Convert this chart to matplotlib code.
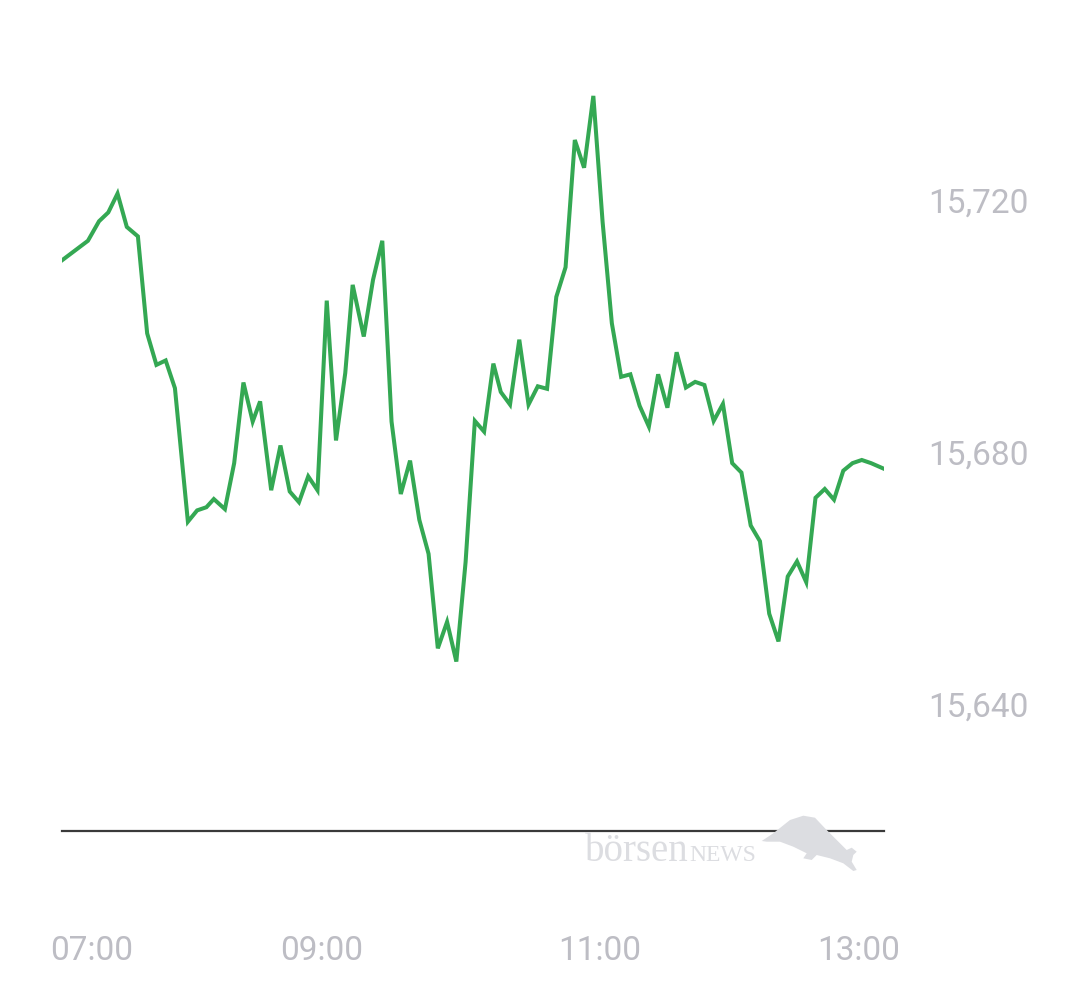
import matplotlib.pyplot as plt
from matplotlib.patches import Polygon

# index price, one sample roughly every 5 minutes (x in minutes from first sample)
t = [0, 14, 20, 25, 30, 35, 41, 46, 51, 56, 61, 68, 73, 78, 82, 88, 93, 98,
     103, 107, 113, 118, 123, 128, 133, 138, 143, 148, 153, 157, 163, 168,
     173, 178, 183, 188, 193, 198, 203, 208, 213, 218, 223, 228, 233, 237,
     242, 247, 252, 257, 262, 267, 272, 277, 282, 287, 292, 297, 302, 307,
     312, 317, 322, 327, 332, 337, 342, 347, 352, 357, 362, 367, 372, 377,
     382, 387, 392, 397, 402, 407, 412, 417, 422, 427, 432, 437, 444]
price = [15710.4, 15713.5, 15716.6, 15718.0, 15721.0, 15715.7, 15714.2,
         15698.8, 15693.8, 15694.5, 15690.1, 15668.9, 15670.7, 15671.2,
         15672.5, 15670.9, 15678.2, 15691.0, 15684.8, 15688.0, 15673.9,
         15681.0, 15673.7, 15672.0, 15676.1, 15673.9, 15704.0, 15681.8,
         15692.5, 15706.5, 15698.3, 15707.3, 15713.5, 15684.8, 15673.3,
         15678.6, 15669.2, 15663.8, 15648.8, 15653.0, 15646.7, 15662.5,
         15684.9, 15683.2, 15694.0, 15689.5, 15687.5, 15697.8, 15687.5,
         15690.4, 15690.0, 15704.6, 15709.3, 15729.5, 15725.1, 15736.5,
         15716.5, 15700.4, 15691.9, 15692.3, 15687.3, 15684.0, 15692.3,
         15687.0, 15695.8, 15690.2, 15691.1, 15690.6, 15684.9, 15687.6,
         15678.2, 15676.7, 15668.3, 15665.8, 15654.3, 15649.9, 15660.2,
         15662.6, 15659.3, 15672.7, 15674.1, 15672.4, 15677.0, 15678.2,
         15678.7, 15678.2, 15677.3]

y_ticks = [15640, 15680, 15720]
x_tick_pos = [15.8, 140.5, 290.5, 430.5]
x_tick_labels = ["07:00", "09:00", "11:00", "13:00"]

W, H = 1080, 990
fig = plt.figure(figsize=(W / 100, H / 100), dpi=100)
ax = fig.add_axes([62 / W, 1 - 831 / H, 822 / W, 771 / H])

ax.plot(t, price, color="#34a853", lw=2.9, solid_joinstyle="miter")
ax.set_xlim(t[0], t[-1])
ax.set_ylim(15619.8, 15742.2)

label_col = "#bdbdc4"
ax.yaxis.tick_right()
ax.set_yticks(y_ticks)
ax.set_yticklabels([f"{v:,}" for v in y_ticks])
ax.set_xticks(x_tick_pos)
ax.set_xticklabels(x_tick_labels)
ax.tick_params(axis="y", length=0, pad=32, labelsize=24, labelcolor=label_col)
ax.tick_params(axis="x", length=0, pad=75, labelsize=24, labelcolor=label_col)
for lab in ax.get_xticklabels() + ax.get_yticklabels():
    lab.set_fontfamily("Roboto")

for side in ["top", "left", "right"]:
    ax.spines[side].set_visible(False)
ax.spines["bottom"].set_color("#3a3a3a")
ax.spines["bottom"].set_linewidth(1.6)

# boersenNEWS watermark
logo_col = "#dcdde1"
bull = [(761.7, 841), (773.3, 833.3), (790, 820), (803.3, 815.7), (815, 817.7),
        (825, 828.3), (836.7, 840), (846.7, 850), (851.7, 847.7), (856.7, 851.7),
        (853.3, 855), (851.7, 861.7), (856.7, 870), (853.3, 871), (843.3, 863.3),
        (830, 858.3), (816.7, 855), (811.7, 860), (803.3, 858.3), (806.7, 853.3),
        (793.3, 846.7), (780, 841.7), (766.7, 841.7)]
bull_fig = [(x / W, 1 - y / H) for x, y in bull]
fig.patches.append(Polygon(bull_fig, closed=True, transform=fig.transFigure,
                           facecolor=logo_col, edgecolor="none", zorder=0))
fig.text(585 / W, 1 - 861 / H, "börsen", family="Liberation Serif", fontsize=28,
         color=logo_col, va="baseline", ha="left")
fig.text(689 / W, 1 - 861 / H, "NEWS", family="Liberation Serif", fontsize=17,
         color=logo_col, va="baseline", ha="left")

fig.savefig("out.png", dpi=100, facecolor="white")
